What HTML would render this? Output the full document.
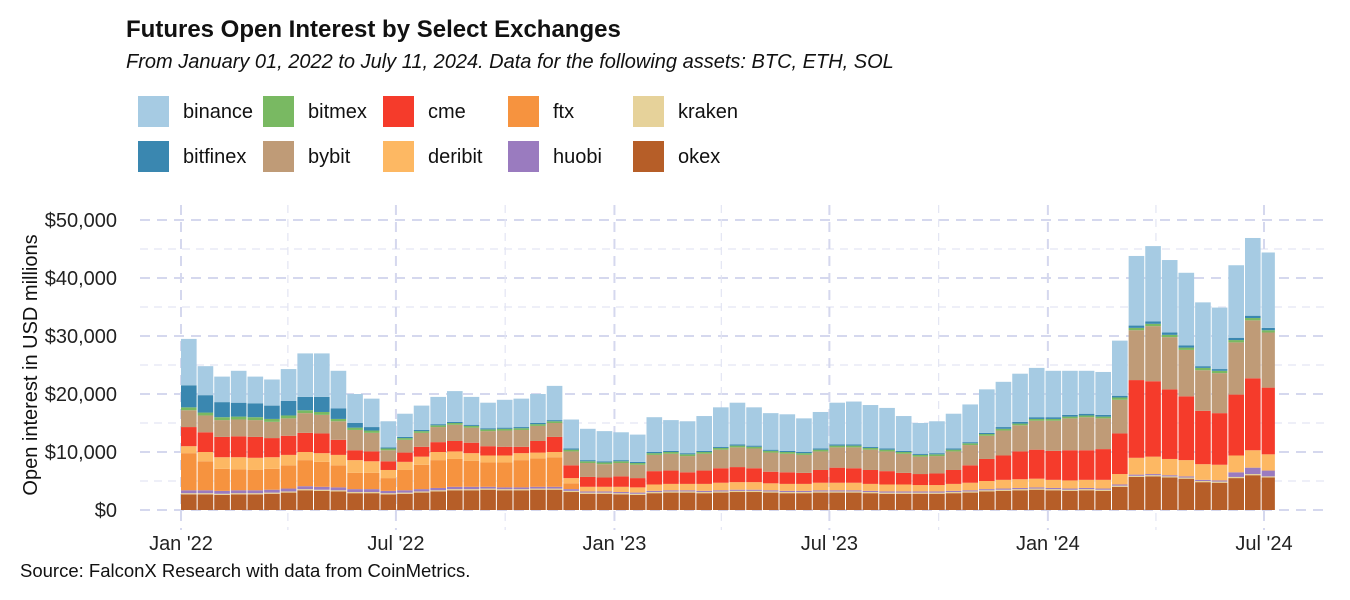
<!DOCTYPE html>
<html><head><meta charset="utf-8"><style>
body{margin:0;background:#fff;font-family:"Liberation Sans",Arial,sans-serif;}
svg{display:block}
</style></head><body>
<svg id="chart" width="1350" height="600" xmlns="http://www.w3.org/2000/svg">
<text x="126" y="37" font-size="24" font-weight="bold" fill="#111">Futures Open Interest by Select Exchanges</text>
<text x="126" y="68" font-size="20" font-style="italic" fill="#111">From January 01, 2022 to July 11, 2024. Data for the following assets: BTC, ETH, SOL</text>
<g id="grid"></g>
<g id="bars"></g>
<g id="axes"></g>
<g id="legend"></g>
<text transform="translate(37,365) rotate(-90)" text-anchor="middle" font-size="20" fill="#111">Open interest in USD millions</text>
<text x="20" y="577" font-size="18.5" fill="#111">Source: FalconX Research with data from CoinMetrics.</text>
</svg>
<script>
const seriesNames = ["okex","kraken","huobi","ftx","deribit","cme","bybit","bitmex","bitfinex","binance"];
const okex = [2.7,2.7,2.6,2.7,2.7,2.8,3.0,3.4,3.3,3.2,2.9,2.9,2.7,2.8,3.0,3.2,3.4,3.4,3.5,3.4,3.4,3.5,3.5,3.1,2.8,2.8,2.7,2.6,2.9,3.0,3.0,2.9,3.0,3.1,3.1,3.0,2.9,2.9,3.0,3.0,3.0,2.9,2.8,2.8,2.8,2.8,2.9,3.0,3.2,3.3,3.4,3.5,3.4,3.3,3.4,3.3,4.0,5.7,5.8,5.6,5.4,4.8,4.7,5.5,6.0,5.6,5.2];
const kraken = [.2,.2,.2,.2,.2,.2,.2,.2,.2,.2,.2,.2,.2,.2,.2,.2,.2,.2,.2,.2,.2,.2,.2,.2,.2,.2,.2,.2,.2,.2,.2,.2,.2,.2,.2,.2,.2,.2,.2,.2,.2,.2,.2,.2,.2,.2,.2,.2,.2,.2,.2,.2,.2,.2,.2,.2,.2,.2,.2,.2,.2,.2,.2,.2,.2,.2,.2];
const huobi = [.5,.5,.5,.5,.5,.5,.5,.5,.5,.5,.5,.5,.4,.4,.4,.4,.4,.4,.3,.3,.3,.3,.3,.3,.2,.2,.2,.2,.2,.2,.2,.2,.2,.2,.2,.2,.2,.2,.2,.2,.2,.2,.2,.2,.2,.2,.2,.2,.2,.2,.2,.2,.2,.2,.2,.2,.2,.2,.2,.2,.2,.2,.2,.8,1.1,1.0,.8];
const ftx = [6.4,5.0,3.8,3.6,3.5,3.6,4.0,4.5,4.3,3.8,2.8,2.8,2.2,3.5,4.2,4.8,4.8,4.5,4.2,4.3,4.7,4.9,5.1,1.0,0,0,0,0,0,0,0,0,0,0,0,0,0,0,0,0,0,0,0,0,0,0,0,0,0,0,0,0,0,0,0,0,0,0,0,0,0,0,0,0,0,0,0];
const deribit = [1.2,1.6,2.0,2.1,2.1,2.0,1.8,1.4,1.5,1.8,2.2,2.0,1.4,1.4,1.4,1.4,1.3,1.3,1.2,1.2,1.2,1.0,.9,.9,.8,.8,.9,.9,1.1,1.1,1.1,1.2,1.3,1.3,1.3,1.2,1.2,1.2,1.3,1.3,1.3,1.2,1.2,1.2,1.1,1.1,1.2,1.3,1.4,1.5,1.5,1.5,1.4,1.4,1.4,1.5,1.8,2.9,3.0,2.8,2.8,2.7,2.7,2.9,3.0,2.8,2.6];
const cme = [3.3,3.4,3.5,3.6,3.6,3.3,3.3,3.3,3.4,2.6,1.7,1.7,1.5,1.6,1.7,1.7,1.8,1.8,1.6,1.5,1.1,2.0,2.6,2.2,1.7,1.6,1.8,1.6,2.3,2.3,2.0,2.3,2.5,2.6,2.4,2.0,2.0,1.9,2.2,2.6,2.5,2.4,2.3,2.0,1.9,2.0,2.4,3.0,3.8,4.2,4.8,5.0,5.0,5.2,5.1,5.3,7.0,13.4,13.0,12.0,11.0,9.2,8.9,10.5,12.4,11.5,9.5];
const bybit = [2.9,2.9,2.9,2.9,2.9,2.8,3.0,3.4,3.2,3.2,3.5,3.2,1.9,2.2,2.4,2.6,2.8,2.6,2.6,2.8,2.9,2.6,2.4,2.4,2.4,2.3,2.3,2.3,2.8,2.9,2.8,2.9,3.2,3.4,3.4,3.3,3.2,3.1,3.2,3.5,3.6,3.5,3.4,3.3,3.0,3.0,3.2,3.5,4.0,4.3,4.5,5.0,5.2,5.5,5.7,5.3,5.8,8.6,9.5,9.0,8.0,7.0,6.9,9.0,10.0,9.5,7.0];
const bitmex = [.5,.5,.5,.5,.5,.5,.5,.5,.5,.4,.4,.4,.3,.3,.3,.3,.3,.3,.3,.3,.3,.3,.3,.3,.3,.3,.3,.3,.3,.3,.3,.3,.3,.3,.3,.3,.3,.3,.3,.3,.3,.3,.3,.3,.3,.3,.3,.3,.3,.3,.3,.3,.3,.3,.3,.3,.4,.4,.4,.4,.4,.4,.4,.4,.4,.4,.4];
const bitfinex = [3.8,3.0,2.6,2.4,2.4,2.3,2.5,2.3,2.6,1.8,.8,.6,.2,.2,.2,.2,.2,.2,.2,.2,.2,.2,.2,.2,.2,.2,.2,.2,.2,.2,.2,.2,.2,.2,.2,.2,.2,.2,.2,.2,.2,.2,.2,.2,.2,.2,.2,.2,.2,.3,.3,.3,.3,.3,.3,.3,.3,.4,.4,.4,.4,.3,.3,.4,.4,.4,.3];
const binance = [8.0,5.0,4.4,5.5,4.6,4.5,5.5,7.5,7.5,6.5,5.0,4.9,4.5,4.0,4.2,4.7,5.3,4.8,4.4,4.8,4.9,5.0,5.9,5.0,5.4,5.2,4.8,4.7,6.0,5.3,5.5,6.0,6.8,7.2,6.6,6.3,6.3,5.8,6.3,7.2,7.4,7.2,7.0,6.0,5.3,5.5,6.0,6.5,7.5,7.8,8.3,8.5,8.0,7.6,7.4,7.4,9.5,12,13,12.5,12.5,11,10.6,12.5,13.4,13,12];
const xTickLabels = ["Jan '22","Jul '22","Jan '23","Jul '23","Jan '24","Jul '24"];
const xTickDays = [0,181,365,546,730,912];
const xMinorDays = [90,273,455,638,821];
const yTicks = [0,10000,20000,30000,40000,50000];
const yTickLabels = ["$0","$10,000","$20,000","$30,000","$40,000","$50,000"];

const seriesData = [okex,kraken,huobi,ftx,deribit,cme,bybit,bitmex,bitfinex,binance];
const colors = {okex:"#b65e28",kraken:"#e6d29a",huobi:"#9a7bbf",ftx:"#f6933f",deribit:"#fdb863",cme:"#f53b2b",bybit:"#bf9b77",bitmex:"#79b962",bitfinex:"#3a87b0",binance:"#a6cbe3"};
const NS="http://www.w3.org/2000/svg";
const xScale = d => 181 + d*(1264-181)/912;
const yScale = v => 510 - v*290/50000;
const endDay = 922;
function mk(tag, attrs, parent){const e=document.createElementNS(NS,tag);for(const k in attrs)e.setAttribute(k,attrs[k]);parent.appendChild(e);return e;}
const grid=document.getElementById('grid'), bars=document.getElementById('bars'), axes=document.getElementById('axes'), legend=document.getElementById('legend');
for(let v=5000;v<=50000;v+=10000){const l=mk('line',{x1:140,x2:1330,y1:yScale(v),y2:yScale(v),stroke:'#e3e5f3','stroke-width':1.2,'stroke-dasharray':'8,6'},grid);

}
yTicks.forEach((v,i)=>{const l=mk('line',{x1:140,x2:1330,y1:yScale(v),y2:yScale(v),stroke:'#d5d8ee','stroke-width':2,'stroke-dasharray':'10,7'},grid);


const t=mk('text',{x:117,y:yScale(v)+7,'text-anchor':'end','font-size':20,fill:'#222'},axes);t.textContent=yTickLabels[i];

});
xMinorDays.forEach(d=>{const l=mk('line',{x1:xScale(d),x2:xScale(d),y1:205,y2:530,stroke:'#e3e5f3','stroke-width':1.2,'stroke-dasharray':'8,6'},grid);

});
xTickDays.forEach((d,i)=>{const l=mk('line',{x1:xScale(d),x2:xScale(d),y1:205,y2:530,stroke:'#d5d8ee','stroke-width':2,'stroke-dasharray':'10,7'},grid);


const t=mk('text',{x:xScale(d),y:550,'text-anchor':'middle','font-size':20,fill:'#222'},axes);t.textContent=xTickLabels[i];

});
for(let i=0;i<okex.length;i++){
  const d0=i*14, d1=Math.min(endDay,(i+1)*14);
  const x0=xScale(d0), w=xScale(d1)-x0-1;
  let cum=0;
  seriesData.forEach((arr,s)=>{const v=arr[i]*1000; if(v<=0)return;
    const r=mk('rect',{x:x0,y:yScale(cum+v),width:w,height:yScale(cum)-yScale(cum+v),fill:colors[seriesNames[s]]},bars);
    
    
    cum+=v;});
}
const legOrder=[["binance","bitmex","cme","ftx","kraken"],["bitfinex","bybit","deribit","huobi","okex"]];
const legX=[138,263,383,508,633];
legOrder.forEach((row,r)=>row.forEach((n,c)=>{
  const g=mk('g',{},legend);
  
  
  mk('rect',{x:legX[c],y:96+r*45,width:31,height:31,fill:colors[n]},g);
  const t=mk('text',{x:legX[c]+45,y:118+r*45,'font-size':20,fill:'#111'},g);t.textContent=n;
}));
</script>
</body></html>
